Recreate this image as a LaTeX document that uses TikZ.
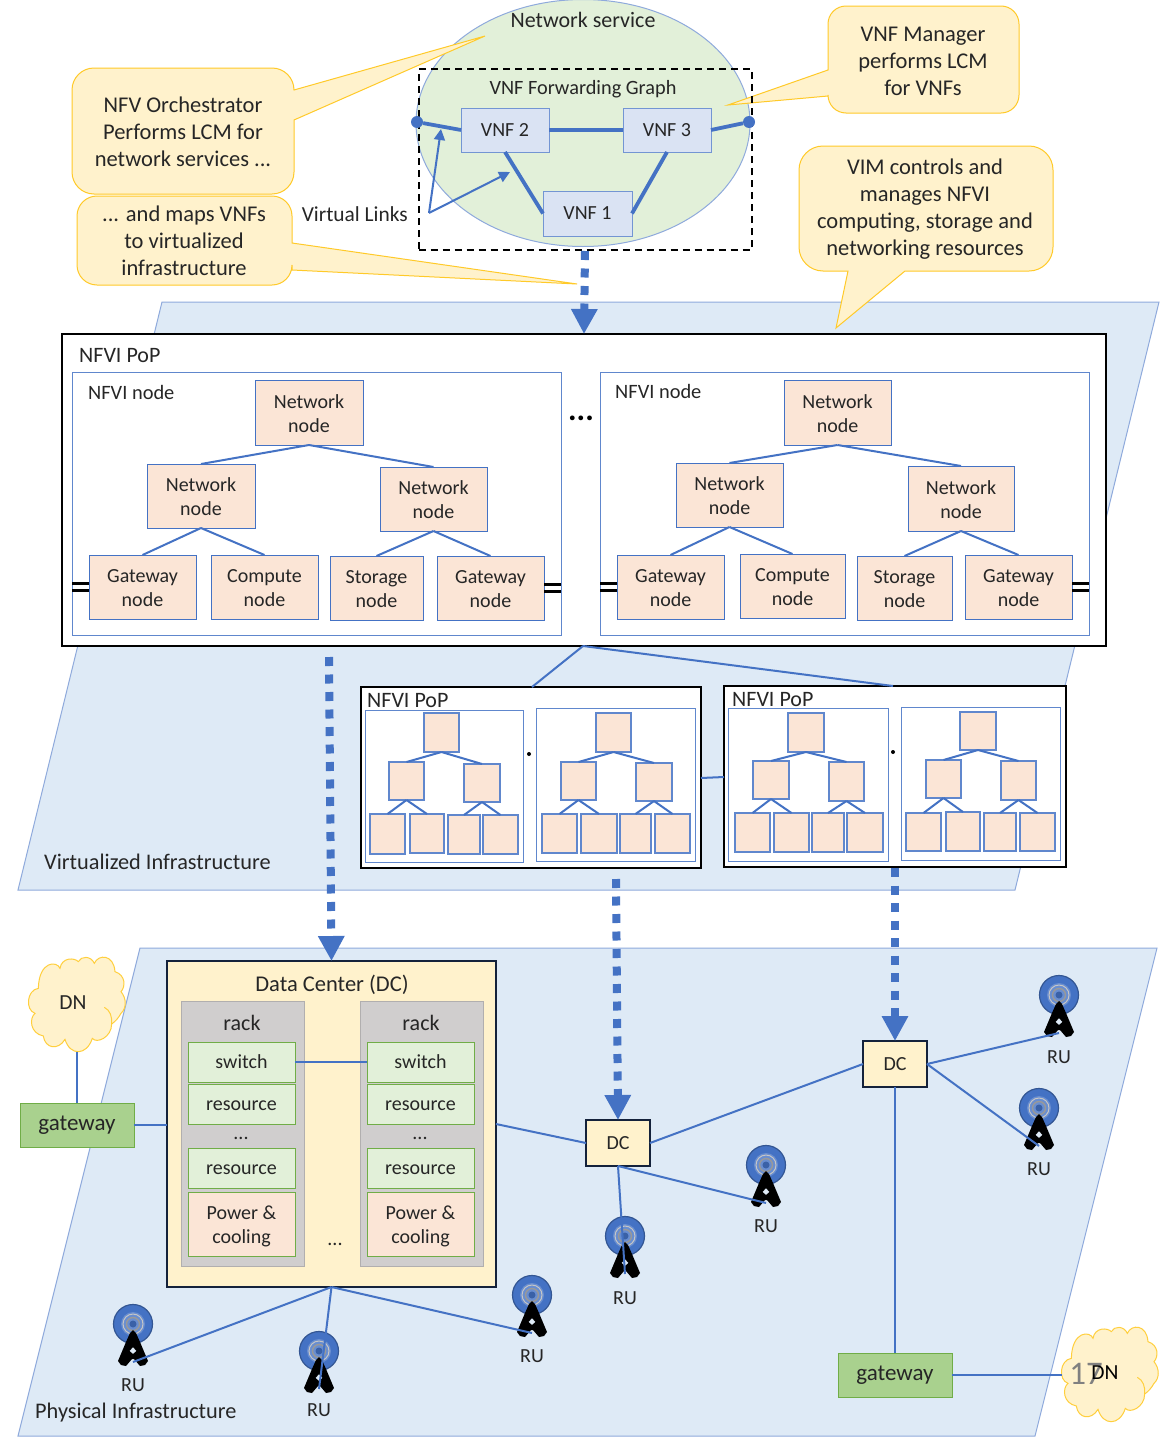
\documentclass[tikz,border=0pt]{standalone}
\usepackage{fontspec}
\setmainfont{Carlito}
\usetikzlibrary{arrows.meta,shapes.geometric,calc}
\definecolor{lnk}{HTML}{4472C4}
\definecolor{bdr}{HTML}{8FAADC}
\definecolor{plane}{HTML}{DEEAF6}
\definecolor{nodef}{HTML}{FBE5D6}
\definecolor{vnff}{HTML}{DAE3F3}
\definecolor{grn}{HTML}{E2F0D9}
\definecolor{grnb}{HTML}{70AD47}
\definecolor{grnd}{HTML}{A9D18E}
\definecolor{yel}{HTML}{FFF2CC}
\definecolor{yelb}{HTML}{FFC000}
\definecolor{rackc}{HTML}{D0CECE}
\definecolor{txt}{HTML}{262626}
\newcommand{\bx}[7]{\node[#6,anchor=north west,inner sep=0pt,outer sep=0pt,minimum width={(#4-#2)*1pt},minimum height={(#5-#3)*1pt}] (#1) at (#2,#3) {#7};}
\newcommand{\dnA}{\rule{0pt}{16pt}}
\newcommand{\dnB}{\rule{0pt}{18pt}}
\newcommand{\tower}[4]{%
  \begin{scope}[shift={(#2,#3)}]
    \fill[lnk,draw=lnk!75!black,line width=1.2pt] (0,0) circle (19.5);
    \fill[lnk!80!white] (0,0) circle (12);
    \draw[gray!45!white,line width=1pt] (0,0) circle (10);
    \draw[gray!80!white,line width=1.4pt] (0,0) circle (6.5);
    \fill[lnk!85!black] (0,0) circle (3.5);
    \fill[black,even odd rule] (0,6) -- (3,9) -- (7,18) -- (15,37) -- (12,41) -- (7,42) -- (1,35) -- (-1,35) -- (-7,42) -- (-12,41) -- (-15,37) -- (-7,18) -- (-3,9) -- cycle
      (0,23) -- (3.5,27) -- (0,30) -- (-3.5,27) -- cycle;
    \coordinate (#1) at (0,38);
    \node[lbl] (#1l) at (0,#4) {RU};
  \end{scope}}
\newcommand{\dncloud}[3]{%
  \begin{scope}[shift={(#2,#3)},x=0.3333pt,y=-0.3333pt]
    \draw[cloudS] (70,115) .. controls (72,32) and (126,32) .. (135,55)
      .. controls (140,22) and (178,22) .. (190,35)
      .. controls (198,17) and (228,17) .. (238,40)
      .. controls (250,12) and (296,12) .. (300,65)
      .. controls (332,75) and (332,110) .. (318,125)
      .. controls (335,145) and (335,175) .. (318,190)
      .. controls (310,205) and (300,215) .. (290,222)
      .. controls (290,262) and (245,282) .. (232,265)
      .. controls (215,318) and (165,318) .. (150,268)
      .. controls (130,302) and (90,296) .. (85,258)
      .. controls (45,250) and (42,205) .. (60,190)
      .. controls (30,180) and (35,120) .. (70,115) -- cycle;
    \draw[yelb!70!yel,line width=1pt] (268,172) .. controls (285,180) and (292,200) .. (290,222);
    \coordinate (#1s) at (186,305);
    \coordinate (#1w) at (42,150);
  \end{scope}}
\tikzset{
  lbl/.style={font=\fontsize{20}{24}\selectfont,text=txt,align=center,inner sep=0pt},
  ttl/.style={font=\fontsize{22}{26}\selectfont,text=txt,align=center,inner sep=0pt},
  nnt/.style={font=\fontsize{20.4}{24}\selectfont,text=txt,inner sep=0pt},
  big/.style={font=\fontsize{22.5}{27}\selectfont,text=txt,align=center,inner sep=0pt},
  planeS/.style={fill=plane,draw=bdr,line width=1pt},
  call/.style={fill=yel,draw=yelb!80!yel,line width=1pt},
  nfnode/.style={fill=nodef,draw=lnk,line width=1pt,lbl},
  snode/.style={fill=nodef,draw=lnk!85!white,line width=1.3pt},
  nfvibox/.style={fill=white,draw=lnk!85!white,line width=1pt},
  popbox/.style={fill=white,draw=black,line width=2pt},
  vnf/.style={fill=vnff,draw=lnk!75!white,line width=1pt,lbl},
  link/.style={draw=lnk,line width=2pt},
  thick link/.style={draw=lnk,line width=3.8pt},
  dasharrow/.style={draw=lnk,line width=8pt,dash pattern=on 9pt off 8.5pt,-{Triangle[width=25pt,length=25pt]}},
  grnbox/.style={fill=grn,draw=grnb,line width=1pt,lbl},
  pwr/.style={fill=nodef,draw=grnb,line width=1pt,lbl},
  gw/.style={fill=grnd,draw=grnb,line width=1pt,font=\fontsize{23}{26}\selectfont,text=txt},
  dcs/.style={fill=yel,draw=black!70!lnk,line width=2pt,lbl},
  cloudS/.style={fill=yel,draw=yelb!70!yel,line width=1pt},
  dbl/.style={black,line width=3pt},
}
\begin{document}
\begin{tikzpicture}[x=1pt,y=-1pt]
\useasboundingbox (0,0) rectangle (1169,1440);
\fill[white] (0,0) rectangle (1169,1440);
% planes
\draw[planeS] (162,302) -- (1159,302) -- (1015,890) -- (18,890) -- cycle;
\draw[planeS] (140,948) -- (1157,948) -- (1035,1436) -- (18,1436) -- cycle;
% network service
\node[ellipse,fill=grn,draw=bdr,line width=1pt,minimum width=334pt,minimum height=247pt,inner sep=0pt] (ns) at (583,123) {};
% callouts
\draw[call] [rounded corners=22] (72,131) -- (72,68) -- (294,68) [sharp corners] -- (294,90) -- (485,36) -- (294,120) [rounded corners=22] -- (294,194) -- (72,194) -- cycle;
\draw[call] [rounded corners=20] (77,240) -- (77,196) -- (292,196) [sharp corners] -- (292,243) -- (577,284) -- (292,270) [rounded corners=20] -- (292,285) -- (77,285) -- cycle;
\draw[call] [rounded corners=18] (1019,60) -- (1019,113) -- (828,113) [sharp corners] -- (828,96) -- (728,105) -- (828,70) [rounded corners=18] -- (828,6) -- (1019,6) -- cycle;
\draw[call] [rounded corners=24] (1053,208) -- (1053,271) [sharp corners] -- (905,271) -- (836,328) -- (848,271) [rounded corners=24] -- (799,271) -- (799,146) -- (1053,146) -- cycle;
\node[big] (c1) at (183,132) {NFV Orchestrator\\Performs LCM for\\network services ...};
\node[big] (c2) at (184,241) {... and maps VNFs\\to virtualized\\infrastructure};
\node[big] (c3) at (923,61) {VNF Manager\\performs LCM\\for VNFs};
\node[big] (c4) at (925,209) {VIM controls and\\manages NFVI\\computing, storage and\\networking resources};
% forwarding graph
\node[draw=black,dashed,line width=2pt,dash pattern=on 7pt off 5pt,anchor=north west,inner sep=0pt,minimum width=333pt,minimum height=181pt] (fg) at (417.5,68) {};
\node[ttl] (nst) at (583,20) {Network service};
\node[lbl,font=\fontsize{20.3}{24}\selectfont] (fgt) at (583,89) {VNF Forwarding Graph};
\bx{v2}{461}{108}{549}{152}{vnf}{VNF 2}
\bx{v3}{623}{108}{711}{152}{vnf}{VNF 3}
\bx{v1}{543}{191}{632}{236}{vnf}{VNF 1}
\node[circle,fill=lnk,inner sep=0pt,minimum size=12pt] (el) at (417,122) {};
\node[circle,fill=lnk,inner sep=0pt,minimum size=12pt] (er) at (749,122) {};
\draw[thick link] (el) -- (v2.west);
\draw[thick link] (v2.east) -- (v3.west);
\draw[thick link] (v3.east) -- (er);
\draw[thick link] (v2.south) -- (v1.west);
\draw[thick link] (v3.south) -- (v1.east);
\node[lbl,anchor=east,font=\fontsize{21.4}{24}\selectfont] (vl) at (408,214) {Virtual Links};
\coordinate (vls) at (429,213);
\coordinate (vla) at (441,129);
\coordinate (vlb) at (510,172);
\draw[link,-{Triangle[width=11pt,length=11pt]}] (vls) -- (vla);
\draw[link,-{Triangle[width=11pt,length=11pt]}] (vls) -- (vlb);
% big PoP
\bx{pop}{62}{334}{1106}{646}{popbox}{}
\node[ttl,anchor=west] (popt) at (79,356) {NFVI PoP};
\bx{nl}{72}{372}{561}{635}{nfvibox}{}
\bx{nr}{600}{372}{1089}{635}{nfvibox}{}
\node[nnt,anchor=west] (nlt) at (88,392) {NFVI node};
\node[nnt,anchor=west] (nrt) at (615,391) {NFVI node};
\node[font=\bfseries\fontsize{32}{32}\selectfont] (popdots) at (581,418) {...};
\bx{a0}{255}{380}{363}{445}{nfnode}{\dnA Network\\node}
\bx{a1}{147}{464}{255}{528}{nfnode}{\dnA Network\\node}
\bx{a2}{380}{467}{487}{531}{nfnode}{\dnA Network\\node}
\bx{a3}{89}{555}{196}{619}{nfnode}{\dnA Gateway\\node}
\bx{a4}{211}{555}{318}{619}{nfnode}{\dnA Compute\\node}
\bx{a5}{330}{556}{423}{620}{nfnode}{\dnA Storage\\node}
\bx{a6}{437}{556}{544}{620}{nfnode}{\dnA Gateway\\node}
\bx{b0}{784}{380}{891}{445}{nfnode}{\dnA Network\\node}
\bx{b1}{676}{463}{783}{527}{nfnode}{\dnA Network\\node}
\bx{b2}{908}{466}{1014}{531}{nfnode}{\dnA Network\\node}
\bx{b3}{617}{555}{724}{619}{nfnode}{\dnA Gateway\\node}
\bx{b4}{740}{554}{845}{618}{nfnode}{\dnA Compute\\node}
\bx{b5}{857}{556}{952}{620}{nfnode}{\dnA Storage\\node}
\bx{b6}{965}{555}{1072}{619}{nfnode}{\dnA Gateway\\node}
\foreach \p in {a,b}{
  \draw[link] (\p0.south) -- (\p1.north);
  \draw[link] (\p0.south) -- (\p2.north);
  \draw[link] (\p1.south) -- (\p3.north);
  \draw[link] (\p1.south) -- (\p4.north);
  \draw[link] (\p2.south) -- (\p5.north);
  \draw[link] (\p2.south) -- (\p6.north);
}
\foreach \t/\u in {a3/nl,b3/nr}{
  \draw[dbl] ($(\t.west)+(0,-3.5)$) -- ($(\t.west -| \u.west)+(0,-3.5)$);
  \draw[dbl] ($(\t.west)+(0,3.5)$) -- ($(\t.west -| \u.west)+(0,3.5)$);
}
\foreach \t/\u in {a6/nl,b6/nr}{
  \draw[dbl] ($(\t.east)+(0,-3.5)$) -- ($(\t.east -| \u.east)+(0,-3.5)$);
  \draw[dbl] ($(\t.east)+(0,3.5)$) -- ($(\t.east -| \u.east)+(0,3.5)$);
}
% small PoPs
\coordinate (popm) at (583,646);
\bx{pa}{361}{687}{701}{868}{popbox}{}
\bx{pb}{724}{686}{1066}{867}{popbox}{}
\draw[link] (popm) -- (532,687);
\draw[link] (popm) -- (893,686);
\draw[link] (701,778) -- (724,777);
\node[ttl,anchor=west] (pat) at (367,701) {NFVI PoP};
\node[ttl,anchor=west] (pbt) at (732,700) {NFVI PoP};
\bx{i1}{365}{710}{523}{862}{nfvibox}{}
\bx{i2}{536}{708}{695}{861}{nfvibox}{}
\bx{i3}{728}{708}{888}{861}{nfvibox}{}
\bx{i4}{901}{707}{1060}{860}{nfvibox}{}
\fill[black] (529,754) circle (2) (893,752) circle (2);
\bx{i10}{424}{713}{459}{752}{snode}{}
\bx{i11}{389}{762}{424}{800}{snode}{}
\bx{i12}{464}{764}{500}{802}{snode}{}
\bx{i13}{370}{814}{405}{854}{snode}{}
\bx{i14}{410}{814}{444}{853}{snode}{}
\bx{i15}{448}{815}{480}{854}{snode}{}
\bx{i16}{483}{815}{518}{854}{snode}{}
\bx{i20}{596}{713}{631}{752}{snode}{}
\bx{i21}{561}{762}{596}{800}{snode}{}
\bx{i22}{636}{763}{672}{801}{snode}{}
\bx{i23}{542}{814}{577}{853}{snode}{}
\bx{i24}{581}{814}{617}{853}{snode}{}
\bx{i25}{620}{814}{651}{853}{snode}{}
\bx{i26}{655}{814}{690}{853}{snode}{}
\bx{i30}{788}{713}{824}{752}{snode}{}
\bx{i31}{753}{761}{789}{799}{snode}{}
\bx{i32}{829}{762}{864}{801}{snode}{}
\bx{i33}{735}{813}{770}{852}{snode}{}
\bx{i34}{774}{813}{809}{852}{snode}{}
\bx{i35}{812}{813}{844}{852}{snode}{}
\bx{i36}{847}{813}{883}{852}{snode}{}
\bx{i40}{960}{712}{996}{750}{snode}{}
\bx{i41}{926}{760}{961}{798}{snode}{}
\bx{i42}{1001}{761}{1036}{800}{snode}{}
\bx{i43}{906}{813}{941}{851}{snode}{}
\bx{i44}{946}{812}{980}{851}{snode}{}
\bx{i45}{984}{813}{1016}{851}{snode}{}
\bx{i46}{1020}{813}{1055}{851}{snode}{}
\foreach \p in {i1,i2,i3,i4}{
  \draw[link] (\p0.south) -- (\p1.north);
  \draw[link] (\p0.south) -- (\p2.north);
  \draw[link] (\p1.south) -- (\p3.north);
  \draw[link] (\p1.south) -- (\p4.north);
  \draw[link] (\p2.south) -- (\p5.north);
  \draw[link] (\p2.south) -- (\p6.north);
}
\node[ttl,anchor=west,font=\fontsize{22.3}{26}\selectfont] (virt) at (44,862) {Virtualized Infrastructure};
\node[ttl,anchor=west,font=\fontsize{22.3}{26}\selectfont] (phys) at (35,1413) {Physical Infrastructure};
% data center
\bx{dc}{167}{961}{496}{1287}{dcs}{}
\node[ttl,font=\fontsize{22.5}{26}\selectfont] (dct) at (332,985) {Data Center (DC)};
\bx{r1}{181}{1001}{304}{1266}{fill=rackc,draw=rackc!85!black}{}
\bx{r2}{360}{1001}{483}{1266}{fill=rackc,draw=rackc!85!black}{}
\node[ttl] (r1t) at (242,1023) {rack};
\node[ttl] (r2t) at (421,1023) {rack};
\bx{s1}{188}{1042}{295}{1082}{grnbox}{switch}
\bx{s2}{367}{1042}{474}{1082}{grnbox}{switch}
\bx{s3}{188}{1084}{295}{1124}{grnbox}{\vphantom{h}resource}
\bx{s4}{367}{1084}{474}{1124}{grnbox}{\vphantom{h}resource}
\node[lbl] (s5) at (241,1138) {...};
\node[lbl] (s6) at (420,1138) {...};
\bx{s7}{188}{1148}{295}{1188}{grnbox}{\vphantom{h}resource}
\bx{s8}{367}{1148}{474}{1188}{grnbox}{\vphantom{h}resource}
\bx{s9}{188}{1192}{295}{1256}{pwr}{\dnB Power \&\\cooling}
\bx{s10}{367}{1192}{474}{1256}{pwr}{\dnB Power \&\\cooling}
\node[lbl] (dcd) at (335,1244) {...};
\draw[link] (s1.east) -- (s2.west);
% DCs and gateways
\bx{dsm}{586}{1120}{650}{1166}{dcs}{DC}
\bx{dbg}{863}{1041}{927}{1087}{dcs}{DC}
\bx{gl}{20}{1103}{134}{1147}{gw}{gateway}
\bx{gr}{838}{1353}{952}{1397}{gw}{gateway}
\dncloud{dn1}{15}{950}
\node[lbl,font=\fontsize{21.5}{24}\selectfont] (dn1t) at (73,1003) {DN};
\dncloud{dn2}{1048}{1320}
\node[text=gray,inner sep=0pt,font=\fontsize{33}{33}\selectfont] (n17) at (1086,1374) {17};
\node[lbl,text=black,font=\fontsize{21.5}{24}\selectfont] (dn2t) at (1105,1373) {DN};
\draw[link] (dn1s) -- (gl.north -| dn1s);
\draw[link] (gl.east) -- (dc.west |- gl.east);
\draw[link] (gr.east) -- (dn2w |- gr.east);
\draw[link] (dbg.south) -- (gr.north);
\draw[link] (dc.east |- 0,1124) -- (dsm.west);
\draw[link] (dsm.east) -- (dbg.west);
% radio units
\tower{ru1}{1059}{995}{62}
\tower{ru2}{1039}{1108}{61}
\tower{ru3}{766}{1165}{61}
\tower{ru4}{625}{1236}{62}
\tower{ru5}{532}{1295}{61}
\tower{ru6}{133}{1324}{61}
\tower{ru7}{319}{1351}{59}
\draw[link] (dbg.east) -- (ru1);
\draw[link] (dbg.east) -- (ru2);
\draw[link] (dsm.south) -- (ru3);
\draw[link] (dsm.south) -- (ru4);
\draw[link] (dc.south) -- (ru5);
\draw[link] (dc.south) -- (ru6);
\draw[link] (dc.south) -- (ru7);
% dashed arrows
\coordinate (d1) at (329,657);
\coordinate (d2) at (616,879);
\coordinate (d3) at (895,868);
\draw[dasharrow] (fg.south) -- (pop.north);
\draw[dasharrow] (d1) -- (dc.north);
\draw[dasharrow] (d2) -- (dsm.north);
\draw[dasharrow] (d3) -- (dbg.north);
\end{tikzpicture}
\end{document}
